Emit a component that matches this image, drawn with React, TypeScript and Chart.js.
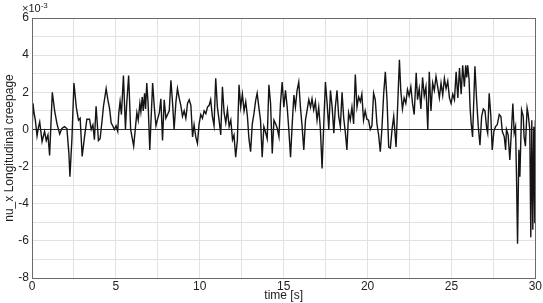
import React, { useEffect, useRef } from "react";
import { Chart, registerables } from "chart.js";

Chart.register(...registerables);

// time [s]
const TIME: number[] = [
  0.0, 0.06, 0.12, 0.2, 0.3, 0.38, 0.46, 0.6, 0.75, 0.85, 0.95, 1.05, 1.21, 1.35, 1.49, 1.65, 1.78, 1.94, 2.08, 2.2,
  2.26, 2.38, 2.5, 2.64, 2.77, 2.87, 2.99, 3.13, 3.27, 3.43, 3.53, 3.63, 3.72, 3.82, 3.96, 4.06, 4.18, 4.26, 4.42, 4.52,
  4.62, 4.72, 4.81, 4.91, 5.01, 5.11, 5.17, 5.25, 5.33, 5.45, 5.57, 5.64, 5.76, 5.88, 6.06, 6.25, 6.33, 6.43, 6.49, 6.57,
  6.63, 6.71, 6.77, 6.84, 6.92, 7.02, 7.19, 7.29, 7.39, 7.47, 7.59, 7.68, 7.78, 7.88, 7.98, 8.08, 8.18, 8.28, 8.38, 8.47,
  8.58, 8.67, 8.77, 8.87, 8.97, 9.07, 9.17, 9.27, 9.37, 9.47, 9.57, 9.66, 9.76, 9.86, 9.96, 10.06, 10.16, 10.26, 10.36, 10.46,
  10.56, 10.65, 10.75, 10.85, 10.95, 11.05, 11.15, 11.25, 11.35, 11.45, 11.55, 11.65, 11.75, 11.85, 11.95, 12.04, 12.14, 12.24, 12.34, 12.44,
  12.54, 12.64, 12.74, 12.84, 12.93, 13.03, 13.13, 13.23, 13.33, 13.42, 13.52, 13.62, 13.72, 13.82, 13.92, 14.02, 14.12, 14.22, 14.32, 14.42,
  14.52, 14.62, 14.72, 14.81, 14.91, 15.01, 15.11, 15.21, 15.31, 15.41, 15.51, 15.61, 15.7, 15.8, 15.9, 16.0, 16.1, 16.2, 16.3, 16.4,
  16.5, 16.6, 16.69, 16.79, 16.89, 16.99, 17.09, 17.19, 17.29, 17.39, 17.49, 17.59, 17.69, 17.79, 17.89, 17.99, 18.08, 18.18, 18.28, 18.38,
  18.48, 18.58, 18.68, 18.77, 18.87, 18.97, 19.07, 19.17, 19.27, 19.37, 19.47, 19.57, 19.66, 19.76, 19.86, 19.96, 20.06, 20.16, 20.26, 20.36,
  20.46, 20.56, 20.66, 20.76, 20.86, 20.96, 21.06, 21.16, 21.26, 21.36, 21.46, 21.56, 21.7, 21.9, 21.98, 22.08, 22.18, 22.28, 22.38, 22.48,
  22.58, 22.68, 22.78, 22.9, 22.98, 23.08, 23.18, 23.28, 23.38, 23.48, 23.59, 23.68, 23.78, 23.88, 23.98, 24.08, 24.18, 24.28, 24.38, 24.48,
  24.58, 24.68, 24.78, 24.88, 24.98, 25.08, 25.18, 25.28, 25.38, 25.48, 25.58, 25.67, 25.77, 25.85, 25.91, 25.97, 26.05, 26.11, 26.17, 26.26,
  26.4, 26.5, 26.6, 26.7, 26.8, 26.9, 27.0, 27.1, 27.16, 27.25, 27.35, 27.43, 27.53, 27.63, 27.73, 27.85, 27.95, 28.03, 28.15, 28.23,
  28.28, 28.38, 28.48, 28.58, 28.66, 28.74, 28.82, 28.88, 28.94, 29.02, 29.08, 29.18, 29.28, 29.33, 29.41, 29.51, 29.57, 29.67, 29.73, 29.79,
  29.85, 29.91, 29.97, 30.0,
];

// nu_x longitudinal creepage, in units of 1e-3
const NU_X: number[] = [
  -0.3, 1.4, 0.9, 0.5, -0.35, 0.1, 0.4, -0.65, -0.1, -0.6, -0.3, -1.4, 2.0, 1.0, 0.3, -0.25, 0.05, 0.15, 0.05, -1.3,
  -2.55, -0.5, 2.5, 1.2, 0.5, 0.6, -1.45, -0.4, 0.55, 0.55, 0.0, 0.25, -0.55, 1.25, -0.6, -0.5, 0.5, 1.25, 2.2, 1.6,
  1.15, 0.35, 0.2, 0.0, 0.2, -0.1, 0.85, 1.5, 0.8, 2.9, 0.0, 1.3, 2.9, 0.0, -0.9, 0.9, 0.5, 1.4, 0.95, 1.75,
  1.0, 1.95, 1.1, 2.5, 1.4, -1.1, 2.5, 1.2, 0.2, 0.5, 0.9, 1.65, -0.6, 1.6, 0.6, 0.8, 1.0, 2.65, 1.4, 0.0,
  1.5, 2.2, 1.7, 1.3, 0.7, 1.0, 0.6, 1.4, 1.6, 1.3, -0.4, 0.25, -0.4, -0.75, 0.3, 0.8, 0.6, 1.0, 0.85, 1.2,
  1.3, 1.6, 0.7, 0.2, 2.75, 1.2, 0.5, -0.3, 2.3, 0.9, 0.35, 1.05, 0.15, 0.5, -0.55, -0.3, -1.5, -0.6, 2.4, 1.2,
  1.9, 1.0, 1.5, 0.7, -0.5, -1.2, 0.3, 0.85, 1.55, 1.95, 1.2, 0.5, -1.5, 0.15, -0.15, -0.5, 2.4, 1.4, -1.3, 0.5,
  0.3, 0.05, -0.4, 1.4, 2.55, 1.2, 2.1, 1.2, -0.05, -1.5, 0.3, 1.85, 1.2, 2.1, 2.55, 1.2, 0.15, -1.1, 0.5, 1.05,
  1.6, 1.2, 1.65, 1.05, 1.5, 0.5, 1.2, 0.0, -2.1, 0.3, 2.55, 1.4, 0.0, 2.1, 1.2, -0.2, 1.2, 2.1, 0.7, 0.15,
  2.0, 0.6, -0.2, -1.1, 0.9, 0.5, 1.2, 0.3, 2.95, 1.2, 1.75, 1.5, 1.9, 0.5, 1.0, 0.55, 0.5, 0.0, 0.2, 1.95,
  1.6, 0.3, -0.3, -1.2, 0.1, 1.9, 3.1, 1.6, -0.95, -1.0, 0.0, 0.7, -0.95, 3.75, 2.1, 1.1, 1.7, 1.4, 2.15, 1.8,
  2.3, 1.4, 0.8, 3.05, 1.6, 2.2, 1.1, 2.8, 1.8, 2.3, 0.0, 3.1, 1.0, 2.5, 2.1, 2.85, 2.3, 1.7, 2.5, 1.85,
  2.75, 2.2, 2.6, 1.7, 1.4, 1.9, 1.6, 3.1, 1.7, 3.3, 1.9, 3.45, 2.3, 3.45, 2.8, 3.45, 2.7, 1.2, 0.4, -0.4,
  3.4, 1.6, 0.15, -0.85, 0.7, 1.1, 1.0, 0.05, -0.2, 1.95, 0.7, -1.1, -0.1, 0.15, 0.25, 0.8, 0.7, -0.1, -0.4, -1.1,
  0.0, -0.3, -1.65, 0.0, 1.4, -0.2, 0.15, -2.6, -6.15, -1.1, -2.55, 1.05, 0.7, -0.4, -0.9, 1.15, 0.85, 0.0, -5.8, 0.5,
  -5.4, 0.15, -5.05, 0.5,
];

const X_MIN = 0;
const X_MAX = 30;
const X_STEP = 2.5;
const X_LABEL_EVERY = 5;
const Y_MIN = -8;
const Y_MAX = 6;
const Y_STEP = 1;
const Y_LABEL_EVERY = 2;
const X_TITLE = "time [s]";
const Y_TITLE = "nu_x Longitudinal creepage";

const FONT = "'Liberation Sans', Arial, sans-serif";

const framePlugin = {
  id: "frame",
  afterDraw(chart: any) {
    const { ctx, chartArea } = chart;
    ctx.save();
    ctx.strokeStyle = "#6a6a6a";
    ctx.lineWidth = 1;
    ctx.strokeRect(
      Math.round(chartArea.left) + 0.5,
      Math.round(chartArea.top) + 0.5,
      Math.round(chartArea.right - chartArea.left),
      Math.round(chartArea.bottom - chartArea.top)
    );
    ctx.restore();
  },
};

export default function App() {
  const canvasRef = useRef<HTMLCanvasElement | null>(null);

  useEffect(() => {
    if (!canvasRef.current) return;
    const points = TIME.map((t, i) => ({ x: t, y: NU_X[i] }));
    const chart = new Chart(canvasRef.current, {
      type: "line",
      data: {
        datasets: [
          {
            data: points,
            borderColor: "#141414",
            borderWidth: 1.4,
            pointRadius: 0,
            tension: 0,
            fill: false,
          },
        ],
      },
      options: {
        animation: false,
        responsive: false,
        devicePixelRatio: 1,
        layout: { padding: { top: 18, right: 6, left: 0, bottom: 0 } },
        plugins: { legend: { display: false }, tooltip: { enabled: false } },
        scales: {
          x: {
            type: "linear",
            min: X_MIN,
            max: X_MAX,
            afterFit: (s: any) => {
              s.height = 25;
            },
            ticks: {
              stepSize: X_STEP,
              autoSkip: false,
              maxRotation: 0,
              padding: 1,
              color: "#222",
              font: { family: FONT, size: 12 },
              callback: (v: any) => (Number(v) % X_LABEL_EVERY === 0 ? String(v) : ""),
            },
            grid: { color: "#e2e2e2", drawTicks: false },
            border: { color: "#6a6a6a" },
            title: {
              display: true,
              text: X_TITLE,
              color: "#222",
              font: { family: FONT, size: 12 },
              padding: { top: 0, bottom: 0 },
            },
          },
          y: {
            type: "linear",
            min: Y_MIN,
            max: Y_MAX,
            afterFit: (s: any) => {
              s.width = 32;
            },
            ticks: {
              stepSize: Y_STEP,
              autoSkip: false,
              padding: 3,
              color: "#222",
              font: { family: FONT, size: 12 },
              callback: (v: any) => (Number(v) % Y_LABEL_EVERY === 0 ? String(v) : ""),
            },
            grid: {
              drawTicks: false,
              color: (c: any) => (c.tick && c.tick.value === 0 ? "#2a2a2a" : "#e2e2e2"),
            },
            border: { color: "#6a6a6a" },
            title: {
              display: true,
              text: Y_TITLE,
              color: "#222",
              font: { family: FONT, size: 12 },
              padding: { top: 2, bottom: 0 },
            },
          },
        },
      },
      plugins: [framePlugin],
    });
    return () => chart.destroy();
  }, []);

  return (
    <div style={{ position: "fixed", left: 0, top: 0, width: 543, height: 303, background: "#fff" }}>
      <canvas ref={canvasRef} width={543} height={303} style={{ display: "block" }} />
      <div
        style={{
          position: "absolute",
          left: 22,
          top: -1,
          fontFamily: FONT,
          fontSize: 11,
          color: "#222",
          lineHeight: "14px",
        }}
      >
        ×10<sup style={{ fontSize: 8, verticalAlign: "4px" }}>-3</sup>
      </div>
    </div>
  );
}
